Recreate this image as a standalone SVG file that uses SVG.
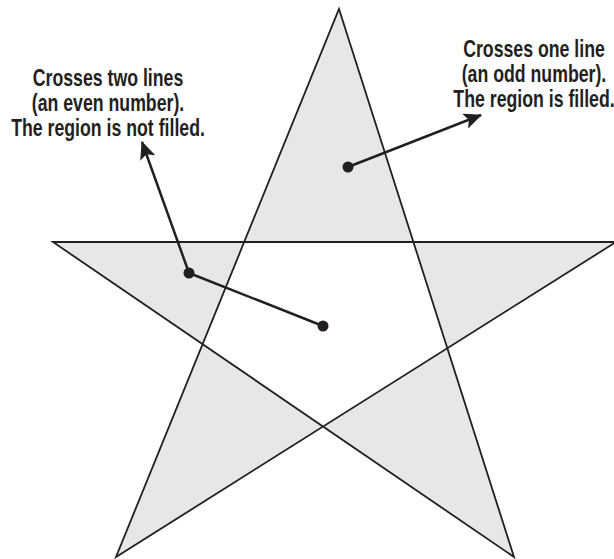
<svg xmlns="http://www.w3.org/2000/svg" width="614" height="559" viewBox="0 0 614 559">
<defs>
<style>
.star{fill:#e6e7e8;fill-rule:evenodd;stroke:#231f20;stroke-width:1.8;stroke-linejoin:miter}
.lbl{font-family:"Liberation Sans",Arial,sans-serif;font-size:23px;font-weight:bold;fill:#231f20;text-anchor:middle}
.conn{stroke:#231f20;stroke-width:2.5;fill:none}
.dot{fill:#231f20}
</style>
<marker id="ah" viewBox="0 0 18 16" refX="17" refY="8" markerWidth="18" markerHeight="16" markerUnits="userSpaceOnUse" orient="auto">
<path d="M0,0 L18,8 L0,16 L4,8 Z" fill="#231f20"/>
</marker>
</defs>
<rect width="614" height="559" fill="#ffffff"/>
<g id="star">
<path class="star" d="M339,9 L514,557 L53,242 L616,242 L116,557 Z"/>
</g>
<g id="label-even" transform="translate(108,0) scale(0.77,1)">
<text class="lbl"><tspan x="0" y="86">Crosses two lines</tspan><tspan x="0" y="111">(an even number).</tspan><tspan x="0" y="136">The region is not filled.</tspan></text>
</g>
<g id="label-odd" transform="translate(534,0) scale(0.77,1)">
<text class="lbl"><tspan x="0" y="57">Crosses one line</tspan><tspan x="0" y="82">(an odd number).</tspan><tspan x="0" y="107">The region is filled.</tspan></text>
</g>
<g id="connectors">
<line class="conn" x1="348" y1="167" x2="481" y2="115" marker-end="url(#ah)"/>
<line class="conn" x1="189" y1="273" x2="142" y2="142" marker-end="url(#ah)"/>
<line class="conn" x1="189" y1="273" x2="323" y2="326"/>
<circle class="dot" cx="348" cy="167" r="5.5"/>
<circle class="dot" cx="189" cy="273" r="5.5"/>
<circle class="dot" cx="323" cy="326" r="5.5"/>
</g>
</svg>
